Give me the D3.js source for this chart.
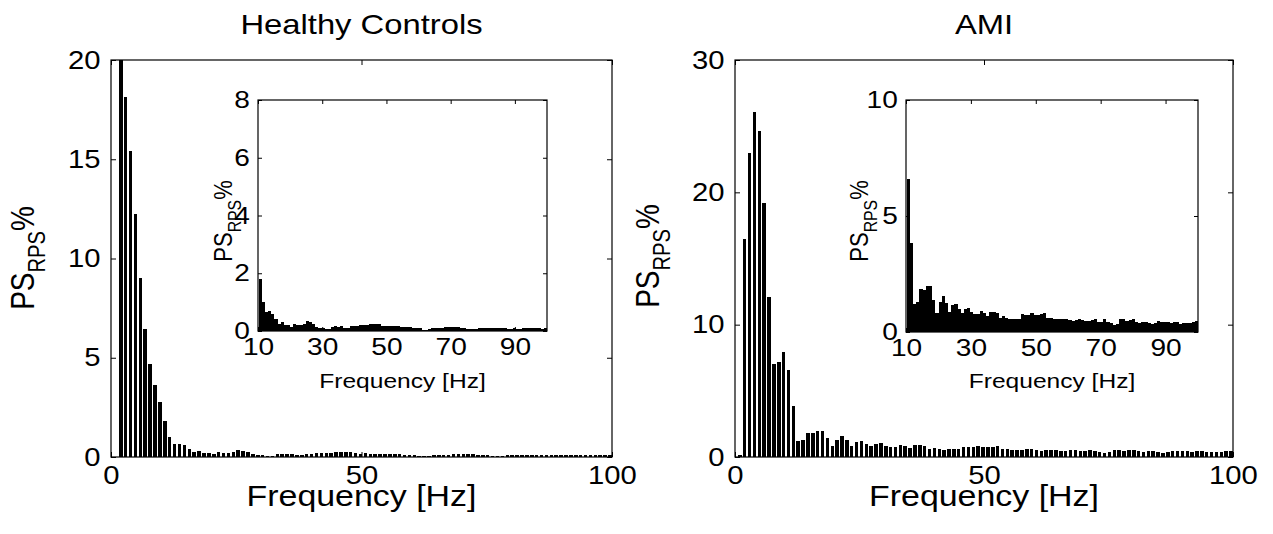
<!DOCTYPE html>
<html>
<head>
<meta charset="utf-8">
<script src="https://cdn.jsdelivr.net/npm/d3@7"></script>
<style>
    body { margin: 0; background: #fff; }
    svg text { font-family: "Liberation Sans", Arial, Helvetica, sans-serif; fill: #000; }
</style>
</head>
<body>
<svg id="chart" width="1273" height="534"></svg>
<script>
// Spectral bins (bin k sits at k * binHz), values in %
const binHz = 1000 / 1024;

const healthyPS = [
    0, 20, 18.15, 15.43, 12.22, 9.03, 6.44, 4.71, 3.65, 2.77,
    1.8, 1.0, 0.65, 0.68, 0.6, 0.4, 0.25, 0.3, 0.2, 0.2,
    0.14, 0.25, 0.22, 0.2, 0.24, 0.34, 0.3, 0.25, 0.14, 0.12,
    0.1, 0.06, 0.06, 0.14, 0.16, 0.15, 0.17, 0.09, 0.09, 0.16,
    0.16, 0.18, 0.22, 0.22, 0.21, 0.23, 0.24, 0.24, 0.23, 0.18,
    0.17, 0.18, 0.16, 0.17, 0.16, 0.14, 0.14, 0.13, 0.14, 0.12,
    0.12, 0.11, 0.05, 0.05, 0.06, 0.1, 0.1, 0.11, 0.1, 0.14,
    0.13, 0.14, 0.15, 0.14, 0.09, 0.09, 0.08, 0.06, 0.06, 0.07,
    0.1, 0.1, 0.09, 0.1, 0.11, 0.1, 0.12, 0.12, 0.11, 0.08,
    0.08, 0.09, 0.08, 0.08, 0.09, 0.1, 0.09, 0.12, 0.12, 0.11,
    0.08, 0.1
];

const amiPS = [
    0.18, 16.5, 23.0, 26.1, 24.6, 19.2, 12.1, 7.0, 7.2, 7.9,
    6.6, 3.85, 1.2, 1.3, 1.85, 1.8, 1.97, 1.97, 1.4, 0.82,
    1.28, 1.55, 1.26, 0.85, 1.15, 1.22, 1.0, 0.8, 0.97, 1.05,
    0.86, 0.76, 0.76, 0.9, 0.8, 0.69, 0.87, 0.87, 0.8, 0.62,
    0.69, 0.6, 0.55, 0.57, 0.57, 0.57, 0.76, 0.74, 0.72, 0.8,
    0.75, 0.72, 0.78, 0.8, 0.62, 0.6, 0.55, 0.55, 0.55, 0.57,
    0.57, 0.5, 0.47, 0.5, 0.54, 0.5, 0.47, 0.47, 0.5, 0.54,
    0.45, 0.43, 0.54, 0.45, 0.4, 0.3, 0.35, 0.54, 0.54, 0.47,
    0.5, 0.54, 0.45, 0.4, 0.42, 0.43, 0.38, 0.33, 0.4, 0.47,
    0.45, 0.43, 0.43, 0.4, 0.42, 0.44, 0.36, 0.38, 0.4, 0.4,
    0.45, 0.47
];

const panelTitles = ['Healthy Controls', 'AMI'];
const mainXTicks = [0, 50, 100];
const healthyYTicks = [0, 5, 10, 15, 20];
const amiYTicks = [0, 10, 20, 30];
const insetXTicks = [10, 30, 50, 70, 90];
const healthyInsetYTicks = [0, 2, 4, 6, 8];
const amiInsetYTicks = [0, 5, 10];
const xLabel = 'Frequency [Hz]';

// the original figure's lettering is a bit wider than Liberation Sans
const stretch = 1.17;

const svg = d3.select('#chart');
let clipCount = 0;

function wideText(parent, x, y, size, str) {
    return parent.append('text')
        .attr('transform', `translate(${x},${y}) scale(${stretch},1)`)
        .attr('text-anchor', 'middle')
        .style('font-size', size + 'px')
        .text(str);
}

// Draws one boxed bar plot, MATLAB style (ticks inward on all four sides)
function barPlot(box, data, xDomain, yDomain, xTicks, yTicks, opts) {
    const x = d3.scaleLinear().domain(xDomain).range([box.x0, box.x1]);
    const y = d3.scaleLinear().domain(yDomain).range([box.y1, box.y0]);
    const g = svg.append('g');

    const clipId = 'clip' + (clipCount++);
    g.append('clipPath').attr('id', clipId)
        .append('rect')
        .attr('x', box.x0).attr('y', box.y0)
        .attr('width', box.x1 - box.x0).attr('height', box.y1 - box.y0);

    const bw = opts.barWidth * binHz;
    g.append('g').attr('clip-path', `url(#${clipId})`)
        .selectAll('rect').data(data.filter(d => d.f >= opts.fMin)).join('rect')
        .attr('x', d => x(d.f - bw / 2))
        .attr('width', d => x(d.f + bw / 2) - x(d.f - bw / 2))
        .attr('y', d => y(Math.min(d.v, yDomain[1])))
        .attr('height', d => y(0) - y(Math.min(d.v, yDomain[1])))
        .attr('fill', '#000')
        .attr('shape-rendering', 'crispEdges');

    const tl = opts.tickLen;
    const axes = [
        [d3.axisBottom(x).tickValues(xTicks).tickSizeInner(-tl).tickSizeOuter(0).tickPadding(opts.pad + tl), `translate(0,${box.y1})`, true],
        [d3.axisTop(x).tickValues(xTicks).tickSizeInner(-tl).tickSizeOuter(0), `translate(0,${box.y0})`, false],
        [d3.axisLeft(y).tickValues(yTicks).tickSizeInner(-tl).tickSizeOuter(0).tickPadding(opts.pad + tl), `translate(${box.x0},0)`, true],
        [d3.axisRight(y).tickValues(yTicks).tickSizeInner(-tl).tickSizeOuter(0), `translate(${box.x1},0)`, false]
    ];
    axes.forEach(([axis, tr, labels]) => {
        const a = g.append('g').attr('transform', tr).call(axis);
        a.select('.domain').remove();
        a.selectAll('line').attr('stroke', '#000');
        if (labels) {
            a.selectAll('text')
                .attr('transform', `scale(${stretch},1)`)
                .style('font-size', opts.tickFont + 'px');
        } else {
            a.selectAll('text').remove();
        }
    });

    g.append('rect')
        .attr('x', box.x0).attr('y', box.y0)
        .attr('width', box.x1 - box.x0).attr('height', box.y1 - box.y0)
        .attr('fill', 'none').attr('stroke', '#000').attr('stroke-width', 1.2);

    wideText(g, (box.x0 + box.x1) / 2, opts.xLabelY, opts.labelFont, xLabel);

    // PS_RPS %, rotated
    const yl = g.append('text')
        .attr('transform', `translate(${opts.yLabelX},${opts.yLabelY}) scale(${stretch},1) rotate(-90)`)
        .attr('text-anchor', 'middle')
        .style('font-size', opts.yFont + 'px');
    yl.append('tspan').text('PS');
    yl.append('tspan').attr('dy', opts.yFont * 0.35).style('font-size', (opts.yFont * 0.72) + 'px').text('RPS');
    yl.append('tspan').attr('dy', -opts.yFont * 0.35).text('%');

    return g;
}

const toRows = arr => arr.map((v, i) => ({ f: (i + 1) * binHz, v }));

const mainOpts = { barWidth: 0.72, fMin: 0, tickLen: 5, pad: 4, tickFont: 25, labelFont: 29, yFont: 28 };
const insetOpts = { barWidth: 1.0, fMin: 10, tickLen: 4, pad: 3, tickFont: 24, labelFont: 21, yFont: 22 };

const panels = [
    { data: toRows(healthyPS), main: { x0: 111, x1: 612, y0: 60, y1: 457 }, yMax: 20, yTicks: healthyYTicks,
      yLab: [34, 258], inset: { x0: 258, x1: 547, y0: 100, y1: 331 }, iyMax: 8, iyTicks: healthyInsetYTicks, iyLab: [232, 221] },
    { data: toRows(amiPS), main: { x0: 735, x1: 1233, y0: 60, y1: 457 }, yMax: 30, yTicks: amiYTicks,
      yLab: [659, 256], inset: { x0: 906, x1: 1198, y0: 100, y1: 332 }, iyMax: 10, iyTicks: amiInsetYTicks, iyLab: [868, 221] }
];

panels.forEach((p, i) => {
    barPlot(p.main, p.data, [0, 100], [0, p.yMax], mainXTicks, p.yTicks,
        Object.assign({}, mainOpts, { xLabelY: 506, yLabelX: p.yLab[0], yLabelY: p.yLab[1] }));

    wideText(svg, (p.main.x0 + p.main.x1) / 2, 34, 28, panelTitles[i]);

    barPlot(p.inset, p.data, [10, 100], [0, p.iyMax], insetXTicks, p.iyTicks,
        Object.assign({}, insetOpts, { xLabelY: 388, yLabelX: p.iyLab[0], yLabelY: p.iyLab[1] }));
});
</script>
</body>
</html>
